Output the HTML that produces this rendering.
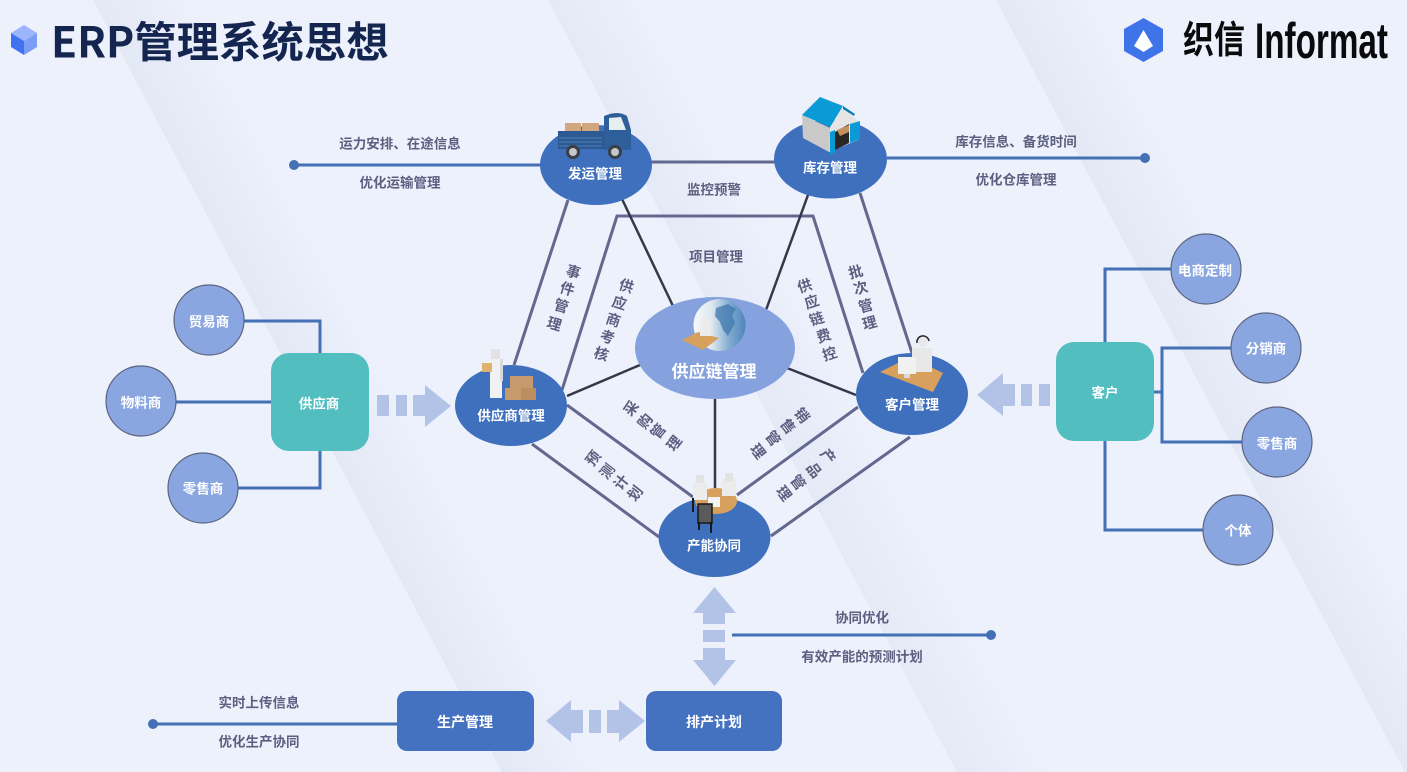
<!DOCTYPE html>
<html lang="zh"><head><meta charset="utf-8"><title>ERP管理系统思想</title>
<style>
html,body{margin:0;padding:0;background:#edf1fc;width:1407px;height:772px;overflow:hidden}
svg{display:block}
text{font-family:"Liberation Sans","Noto Sans CJK SC",sans-serif;font-weight:700;text-anchor:middle;dominant-baseline:central}
.w{fill:#fff;font-size:13.5px}
.g{fill:#5c6080;font-size:13.5px}
.r{fill:#5c6080;font-size:14.5px}
.b{fill:none;stroke:#4470b6;stroke-width:3}
.l{stroke:#63688f;stroke-width:3;fill:none}
.d{stroke:#34384a;stroke-width:2.5;fill:none}
.c{fill:#8aa6e0;stroke:#5c6480;stroke-width:1.2}
.a{fill:#b3c3e8}
.n{fill:#3f70bd}
</style></head><body>
<svg width="1407" height="772" viewBox="0 0 1407 772" xmlns="http://www.w3.org/2000/svg">
<defs>
<linearGradient id="b1" gradientUnits="userSpaceOnUse" x1="93" y1="0" x2="173" y2="-42"><stop offset="0" stop-color="#e3e8f5"/><stop offset="1" stop-color="#e3e8f5" stop-opacity="0"/></linearGradient>
<linearGradient id="b2" gradientUnits="userSpaceOnUse" x1="548" y1="0" x2="628" y2="-42"><stop offset="0" stop-color="#e4e9f6"/><stop offset="1" stop-color="#e4e9f6" stop-opacity="0"/></linearGradient>
<linearGradient id="b3" gradientUnits="userSpaceOnUse" x1="996" y1="0" x2="1076" y2="-42"><stop offset="0" stop-color="#e3e8f5"/><stop offset="1" stop-color="#e3e8f5" stop-opacity="0"/></linearGradient>
<linearGradient id="gl" x1="0" y1="0" x2="1" y2="0"><stop offset="0" stop-color="#f6f8fa"/><stop offset=".35" stop-color="#dfe8f0"/><stop offset=".7" stop-color="#7fa9cf"/><stop offset="1" stop-color="#4d86ba"/></linearGradient>
</defs>
<rect width="1407" height="772" fill="#edf1fc"/>
<polygon points="93,0 293,0 702,772 502,772" fill="url(#b1)"/>
<polygon points="548,0 748,0 1157,772 957,772" fill="url(#b2)"/>
<polygon points="996,0 1196,0 1605,772 1405,772" fill="url(#b3)"/>

<!-- header -->
<polygon points="24,25 37,33 24,41 11,33" fill="#9ab5fb"/>
<polygon points="11,33 24,41 24,55 11,47" fill="#3f72ee"/>
<polygon points="37,33 24,41 24,55 37,47" fill="#7b9df6"/>
<text x="51" y="40" style="font-family:'Noto Sans CJK SC',sans-serif;font-size:42.4px;font-weight:700;text-anchor:start" fill="#14254f">ERP管理系统思想</text>
<polygon points="1143.5,18 1163,29 1163,51 1143.5,62 1124,51 1124,29" fill="#3f73e8"/>
<polygon points="1143.5,30 1153,46 1143.5,52 1134,46" fill="#fff"/>
<text x="1183" y="41" textLength="62" lengthAdjust="spacingAndGlyphs" style="font-size:38px;text-anchor:start" fill="#0b0b0d">织信</text>
<text x="1255" y="41" textLength="133" lengthAdjust="spacingAndGlyphs" style="font-size:50px;text-anchor:start;font-weight:700" fill="#0b0b0d">Informat</text>

<!-- blue lines -->
<path class="b" d="M294,165H545M887,158H1145M732,635H991M153,724H400"/>
<circle cx="294" cy="165" r="5" fill="#4470b6"/><circle cx="1145" cy="158" r="5" fill="#4470b6"/>
<circle cx="991" cy="635" r="5" fill="#4470b6"/><circle cx="153" cy="724" r="5" fill="#4470b6"/>
<path class="b" d="M244,321H320V353M176,402H271M238,488H320V451"/>
<path class="b" d="M1105,342V269H1171M1154,392H1162M1231,348H1162V442H1243M1105,441V530H1203"/>

<!-- gray lines -->
<path class="l" d="M650,162H775M568,200L514,365M562,390L617,216H813L863,373M860,193L912,353M567,405L693,497M532,444L659,537M858,407L737,495M910,437L771,536"/>
<path class="d" d="M622,199L673,306M808,195L766,310M640,365L567,396M787,368L856,395M715,398V492"/>

<!-- nodes -->
<ellipse class="n" cx="596" cy="165" rx="56" ry="40"/>
<ellipse class="n" cx="830.5" cy="159" rx="56.5" ry="39.5"/>
<ellipse class="n" cx="511" cy="405.5" rx="56" ry="40.5"/>
<ellipse class="n" cx="912" cy="394" rx="56" ry="41"/>
<ellipse class="n" cx="714.5" cy="537" rx="56" ry="40"/>
<ellipse cx="715" cy="348" rx="80" ry="51" fill="#85a2de"/>

<!-- truck -->
<rect x="565" y="123" width="16" height="9" fill="#d0a780"/><rect x="582" y="123" width="17" height="9" fill="#d0a780"/>
<path d="M604,116Q618,110 627,116L631,130V150H604Z" fill="#2f5f9b"/>
<polygon points="609,118 621,117 626,130 609,130" fill="#e6eff0"/>
<rect x="558" y="131" width="47" height="18" fill="#2e5a94"/>
<path d="M559,138H602M559,142H602M559,146H602" stroke="#5c8abf" stroke-width=".8"/>
<circle cx="573" cy="152" r="7" fill="#3a3f46"/><circle cx="573" cy="152" r="4" fill="#c4c8cc"/>
<circle cx="615" cy="152" r="7" fill="#3a3f46"/><circle cx="615" cy="152" r="4" fill="#c4c8cc"/>

<!-- warehouse -->
<polygon points="802,115 830,128 829,152 803,138" fill="#c9c9c9"/>
<polygon points="830,127 843,107 858,121 858,140 829,152" fill="#e4e4e4"/>
<polygon points="835,150 849,143 849,124 835,132" fill="#2a2622"/>
<polygon points="837,130 849,125 849,132 840,136" fill="#c2925e"/>
<polygon points="830,132 835,130 835,152 830,155" fill="#0a9ad6"/>
<polygon points="850,124 860,121 860,139 850,143" fill="#0a9ad6"/>
<polygon points="802,115 820,97 843,106 830,127" fill="#0a9ad6"/>
<polygon points="843,106 855,114 854,116 843,109" fill="#0a7fb4"/>

<!-- globe -->
<circle cx="719.5" cy="325" r="26" fill="url(#gl)"/>
<path d="M716,308l12,-4 8,5 -4,6 3,8 -7,13 -5,-6 -3,-8 -5,-6z" fill="#3f78ad" opacity=".75"/>
<polygon points="682,340 698,332 719,338 703,350" fill="#d7a05c"/>
<rect x="700" y="322" width="11" height="14" fill="#ececec"/>
<circle cx="705" cy="320" r="3.5" fill="#ececec"/>

<!-- supplier figure -->
<rect x="490" y="358" width="12" height="40" fill="#eff1f3"/><rect x="491" y="349" width="9" height="10" fill="#e3e3e3"/>
<rect x="500" y="359" width="3" height="22" fill="#d9d9d9"/><rect x="482" y="363" width="10" height="9" fill="#e0b26f"/>
<rect x="505" y="388" width="16" height="12" fill="#c69a6c"/><rect x="521" y="388" width="15" height="12" fill="#bd8f60"/><rect x="510" y="376" width="23" height="12" fill="#c69a6c"/>

<!-- customer figure -->
<polygon points="880,372 910,357 943,373 933,392" fill="#d7a05c"/>
<rect x="912" y="348" width="20" height="24" fill="#e8e8e8"/><circle cx="923" cy="342" r="5" fill="#e8e8e8"/>
<path d="M917,343a6,6 0 0 1 12,-2" fill="none" stroke="#222" stroke-width="1.5"/>
<rect x="898" y="357" width="18" height="17" fill="#f1f1f1"/><rect x="904" y="374" width="6" height="4" fill="#d8d8d8"/>

<!-- meeting figure -->
<ellipse cx="716" cy="501" rx="21" ry="13" fill="#d7a05c"/>
<rect x="693" y="482" width="14" height="18" fill="#ececec"/><rect x="722" y="478" width="14" height="18" fill="#ececec"/><rect x="696" y="475" width="8" height="8" fill="#e3e3e3"/><rect x="725" y="473" width="8" height="8" fill="#e3e3e3"/>
<rect x="708" y="497" width="12" height="10" fill="#f3f3f3"/>
<rect x="698" y="504" width="14" height="19" fill="#5a5a5a" stroke="#181818" stroke-width="1.5"/>
<path d="M699,522V530M711,522V533M693,498V512" stroke="#181818" stroke-width="2"/>

<text class="w" x="595" y="174">发运管理</text>
<text class="w" x="830" y="168">库存管理</text>
<text class="w" x="511" y="416">供应商管理</text>
<text class="w" x="714" y="372" style="font-size:17px">供应链管理</text>
<text class="w" x="912" y="405">客户管理</text>
<text class="w" x="714" y="546">产能协同</text>

<!-- boxes -->
<rect x="271" y="353" width="98" height="98" rx="18" fill="#52bec0"/>
<rect x="1056" y="342" width="98" height="99" rx="18" fill="#52bec0"/>
<rect x="397" y="691" width="137" height="60" rx="10" fill="#4472c0"/>
<rect x="646" y="691" width="136" height="60" rx="10" fill="#4472c0"/>
<text class="w" x="319" y="404">供应商</text>
<text class="w" x="1105" y="393">客户</text>
<text class="w" x="465" y="722" style="font-size:14px">生产管理</text>
<text class="w" x="714" y="722" style="font-size:14px">排产计划</text>

<!-- circles -->
<circle class="c" cx="209" cy="320" r="35"/><circle class="c" cx="141" cy="401" r="35"/><circle class="c" cx="203" cy="488" r="35"/>
<circle class="c" cx="1206" cy="269" r="35"/><circle class="c" cx="1266" cy="348" r="35"/><circle class="c" cx="1277" cy="442" r="35"/><circle class="c" cx="1238" cy="530" r="35"/>
<text class="w" x="209" y="322">贸易商</text><text class="w" x="141" y="403">物料商</text><text class="w" x="203" y="489">零售商</text>
<text class="w" x="1205" y="271">电商定制</text><text class="w" x="1266" y="349">分销商</text><text class="w" x="1277" y="444">零售商</text><text class="w" x="1238" y="531">个体</text>

<!-- arrows -->
<g class="a">
<rect x="377" y="395" width="12" height="21"/><rect x="396" y="395" width="11" height="21"/>
<polygon points="413,395 425,395 425,385 451,406 425,427 425,416 413,416"/>
<rect x="1039" y="384" width="11" height="22"/><rect x="1021" y="384" width="11" height="22"/>
<polygon points="1015,384 1003,384 1003,373 977,395 1003,416 1003,406 1015,406"/>
<polygon points="583,710 571,710 571,700 546,721 571,742 571,733 583,733"/>
<rect x="589" y="710" width="12" height="23"/>
<polygon points="607,710 619,710 619,700 645,721 619,742 619,733 607,733"/>
<polygon points="703,624 703,613 693,613 714.5,587 736,613 725,613 725,624"/>
<rect x="703" y="630" width="22" height="12"/>
<polygon points="703,648 703,660 693,660 714.5,686 736,660 725,660 725,648"/>
</g>

<!-- labels -->
<text class="g" x="400" y="144">运力安排、在途信息</text><text class="g" x="400" y="183">优化运输管理</text>
<text class="g" x="1016" y="142">库存信息、备货时间</text><text class="g" x="1016" y="180">优化仓库管理</text>
<text class="g" x="714" y="190">监控预警</text><text class="g" x="716" y="257">项目管理</text>
<text class="g" x="862" y="618">协同优化</text><text class="g" x="862" y="657">有效产能的预测计划</text>
<text class="g" x="259" y="703">实时上传信息</text><text class="g" x="259" y="742">优化生产协同</text>

<!-- rotated labels -->
<text class="r" transform="translate(573,273) rotate(17)">事</text><text class="r" transform="translate(567,290) rotate(17)">件</text><text class="r" transform="translate(561,307) rotate(17)">管</text><text class="r" transform="translate(554,325) rotate(17)">理</text>
<text class="r" transform="translate(626,287) rotate(18)">供</text><text class="r" transform="translate(619,304) rotate(18)">应</text><text class="r" transform="translate(613,321) rotate(18)">商</text><text class="r" transform="translate(607,338) rotate(18)">考</text><text class="r" transform="translate(601,355) rotate(18)">核</text>
<text class="r" transform="translate(805,287) rotate(-18)">供</text><text class="r" transform="translate(812,303) rotate(-18)">应</text><text class="r" transform="translate(817,320) rotate(-18)">链</text><text class="r" transform="translate(824,337) rotate(-18)">费</text><text class="r" transform="translate(830,355) rotate(-18)">控</text>
<text class="r" transform="translate(856,273) rotate(-15)">批</text><text class="r" transform="translate(861,289) rotate(-15)">次</text><text class="r" transform="translate(866,307) rotate(-15)">管</text><text class="r" transform="translate(870,324) rotate(-15)">理</text>
<text class="r" transform="translate(632,409) rotate(-52)">采</text><text class="r" transform="translate(646,422) rotate(-52)">购</text><text class="r" transform="translate(659,432) rotate(-52)">管</text><text class="r" transform="translate(675,444) rotate(-52)">理</text>
<text class="r" transform="translate(594,459) rotate(-52)">预</text><text class="r" transform="translate(608,472) rotate(-52)">测</text><text class="r" transform="translate(622,483) rotate(-52)">计</text><text class="r" transform="translate(636,494) rotate(-52)">划</text>
<text class="r" transform="translate(801,416) rotate(53)">销</text><text class="r" transform="translate(787,427) rotate(53)">售</text><text class="r" transform="translate(772,439) rotate(53)">管</text><text class="r" transform="translate(757,452) rotate(53)">理</text>
<text class="r" transform="translate(827,457) rotate(53)">产</text><text class="r" transform="translate(813,471) rotate(53)">品</text><text class="r" transform="translate(797,483) rotate(53)">管</text><text class="r" transform="translate(783,494) rotate(53)">理</text>
</svg>
</body></html>
